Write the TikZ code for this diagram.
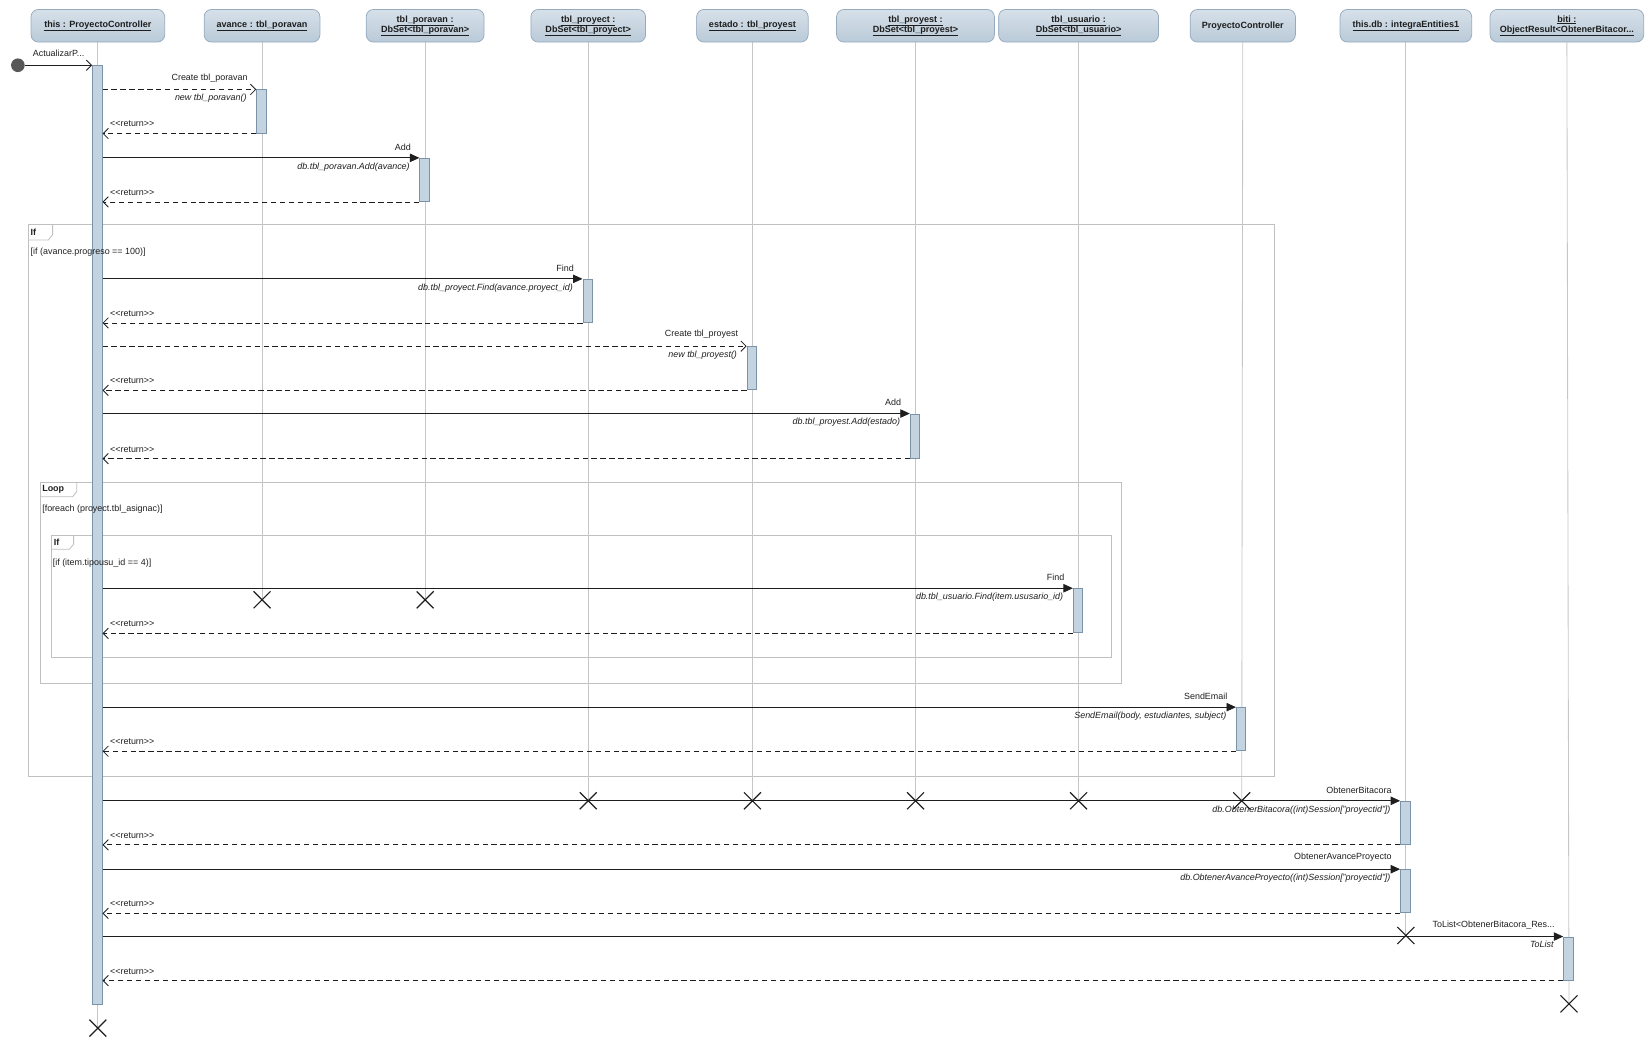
\documentclass[tikz,border=0pt]{standalone}
\usepackage{fontspec}
\setmainfont{Liberation Sans}
\usetikzlibrary{arrows.meta,shapes.misc,backgrounds}

\definecolor{hdrtop}{HTML}{D6E0E9}
\definecolor{hdrbot}{HTML}{BACAD8}
\definecolor{hdrline}{HTML}{95AABD}
\definecolor{actfill}{HTML}{C3D3E0}
\definecolor{actline}{HTML}{7A93A9}
\definecolor{lifeline}{HTML}{C6C6C6}
\definecolor{framecol}{HTML}{C0C0C0}
\definecolor{ink}{HTML}{1E1E1E}
\definecolor{dotgray}{HTML}{585858}

\newcommand\hdrfont{\fontsize{8.6}{10.5}\selectfont\bfseries}
\newcommand\lblfont{\fontsize{8.5}{10}\selectfont}

% activation bar: name, x, top y, bottom y
\newcommand\actbox[4]{\node[act,anchor=north,minimum height=#4-#3] (#1) at (#2,#3) {};}
% call from the controller bar to a bar: bar, style, message name, signature
\newcommand\callmsg[4]{%
  \draw[#2] (m.east |- #1.north) -- (#1.north west);
  \node[lbl,anchor=south east] (#1-name) at ([xshift=-7pt,yshift=6pt]#1.north west) {#3};
  \node[sig,anchor=north east] (#1-sig) at ([xshift=-8pt,yshift=-3.5pt]#1.north west) {#4};}
% return from a bar back to the controller bar
\newcommand\retmsg[1]{%
  \draw[ret] (#1.south west) -- (m.east |- #1.south);
  \node[lbl,anchor=south west] (#1-ret) at ([xshift=6pt,yshift=5pt]m.east |- #1.south) {<{}<return>{}>};}

\tikzset{
  hdr/.style={draw=hdrline, line width=0.7pt, top color=hdrtop, bottom color=hdrbot,
    rounded corners=7pt, minimum height=31pt, inner sep=0pt, font=\hdrfont,
    align=center, text=ink},
  act/.style={draw=actline, fill=actfill, line width=0.9pt, minimum width=9pt, inner sep=0pt},
  life/.style={draw=lifeline, line width=0.8pt},
  msg/.style={draw=ink, line width=0.8pt},
  call/.style={msg, -{Triangle[length=9pt,width=8pt]}},
  create/.style={msg, dash pattern=on 5pt off 3.5pt, -{Straight Barb[length=5pt,width=10pt]}},
  ret/.style={create},
  lbl/.style={font=\lblfont, text=ink, inner sep=1pt},
  sig/.style={lbl, font=\lblfont\itshape},
  frm/.style={draw=framecol, line width=0.8pt},
  guard/.style={lbl, anchor=west},
  tabtext/.style={lbl, font=\lblfont\bfseries, anchor=west},
  xmark/.style={cross out, draw=ink, line width=1.1pt, minimum size=15pt, inner sep=0pt},
}

\begin{document}
\begin{tikzpicture}[x=1pt,y=-1pt]
\useasboundingbox (0,0) rectangle (1568,985);

% participants
\node[hdr, minimum width=127pt] (h1) at (93,24.5) {\underline{this : ProyectoController}};
\node[hdr, minimum width=110pt] (h2) at (249,24.5) {\underline{avance : tbl\_poravan}};
\node[hdr, minimum width=112pt] (h3) at (404,24.5) {\underline{tbl\_poravan :}\\[-1pt]\underline{DbSet<tbl\_poravan>}};
\node[hdr, minimum width=109pt] (h4) at (559,24.5) {\underline{tbl\_proyect :}\\[-1pt]\underline{DbSet<tbl\_proyect>}};
\node[hdr, minimum width=106pt] (h5) at (715,24.5) {\underline{estado : tbl\_proyest}};
\node[hdr, minimum width=150pt] (h6) at (870,24.5) {\underline{tbl\_proyest :}\\[-1pt]\underline{DbSet<tbl\_proyest>}};
\node[hdr, minimum width=152pt] (h7) at (1025,24.5) {\underline{tbl\_usuario :}\\[-1pt]\underline{DbSet<tbl\_usuario>}};
\node[hdr, minimum width=100pt] (h8) at (1181,24.5) {ProyectoController};
\node[hdr, minimum width=125pt] (h9) at (1336,24.5) {\underline{this.db : integraEntities1}};
\node[hdr, minimum width=146pt] (h10) at (1489,24.5) {\underline{biti :}\\[-1pt]\underline{ObjectResult<ObtenerBitacor...}};

% destruction marks
\node[xmark] (x1) at (93,977) {};
\node[xmark] (x2) at (249,570) {};
\node[xmark] (x3) at (404,570) {};
\node[xmark] (x4) at (559,761) {};
\node[xmark] (x5) at (715,761) {};
\node[xmark] (x6) at (870,761) {};
\node[xmark] (x7) at (1025,761) {};
\node[xmark] (x8) at (1180,761) {};
\node[xmark] (x9) at (1336,889) {};
\node[xmark] (x10) at (1491,954) {};

% combined fragments and lifelines
\begin{scope}[on background layer]
  \draw[frm] (27,213) rectangle (1211,738);
  \draw[frm] (27,228) -- (46,228) -- (50,223) -- (50,213);
  \draw[frm] (38,458) rectangle (1066,649);
  \draw[frm] (38,472) -- (69,472) -- (73,467) -- (73,458);
  \draw[frm] (49,509) rectangle (1056,625);
  \draw[frm] (49,522) -- (66,522) -- (70,517) -- (70,509);
  \foreach \i in {1,...,10} \draw[life] (h\i.south) -- (x\i.center);
\end{scope}

% activation bars
\actbox{m}{92.5}{62}{954}
\actbox{a1}{248.5}{85}{126}
\actbox{a2}{403.5}{150}{191}
\actbox{a3}{558.5}{265}{306}
\actbox{a4}{714.5}{329}{370}
\actbox{a5}{869.5}{393}{435}
\actbox{a6}{1024.5}{559}{601}
\actbox{a7}{1179.5}{672}{713}
\actbox{a8}{1335.5}{761}{802}
\actbox{a9}{1335.5}{826}{867}
\actbox{a10}{1490.5}{890}{931}

% fragment labels and guards
\node[tabtext] (t1) at (28,220.5) {If};
\node[guard] (g1) at (28,240) {[if (avance.progreso == 100)]};
\node[tabtext] (t2) at (39,465) {Loop};
\node[guard] (g2) at (39,484) {[foreach (proyect.tbl\_asignac)]};
\node[tabtext] (t3) at (50,515.5) {If};
\node[guard] (g3) at (49,535) {[if (item.tipousu\_id == 4)]};

% incoming message
\node[circle, fill=dotgray, minimum size=13pt, inner sep=0pt] (start) at (17,62) {};
\draw[msg, -{Straight Barb[length=5pt,width=10pt]}] (start) -- (m.north west);
\node[lbl, anchor=west] (startlbl) at (30,51) {ActualizarP...};

% messages
\callmsg{a1}{create}{Create tbl\_poravan}{new tbl\_poravan()}
\retmsg{a1}
\callmsg{a2}{call}{Add}{db.tbl\_poravan.Add(avance)}
\retmsg{a2}
\callmsg{a3}{call}{Find}{db.tbl\_proyect.Find(avance.proyect\_id)}
\retmsg{a3}
\callmsg{a4}{create}{Create tbl\_proyest}{new tbl\_proyest()}
\retmsg{a4}
\callmsg{a5}{call}{Add}{db.tbl\_proyest.Add(estado)}
\retmsg{a5}
\callmsg{a6}{call}{Find}{db.tbl\_usuario.Find(item.ususario\_id)}
\retmsg{a6}
\callmsg{a7}{call}{SendEmail}{SendEmail(body, estudiantes, subject)}
\retmsg{a7}
\callmsg{a8}{call}{ObtenerBitacora}{db.ObtenerBitacora((int)Session["proyectid"])}
\retmsg{a8}
\callmsg{a9}{call}{ObtenerAvanceProyecto}{db.ObtenerAvanceProyecto((int)Session["proyectid"])}
\retmsg{a9}
\callmsg{a10}{call}{ToList<ObtenerBitacora\_Res...}{ToList}
\retmsg{a10}
\end{tikzpicture}
\end{document}
